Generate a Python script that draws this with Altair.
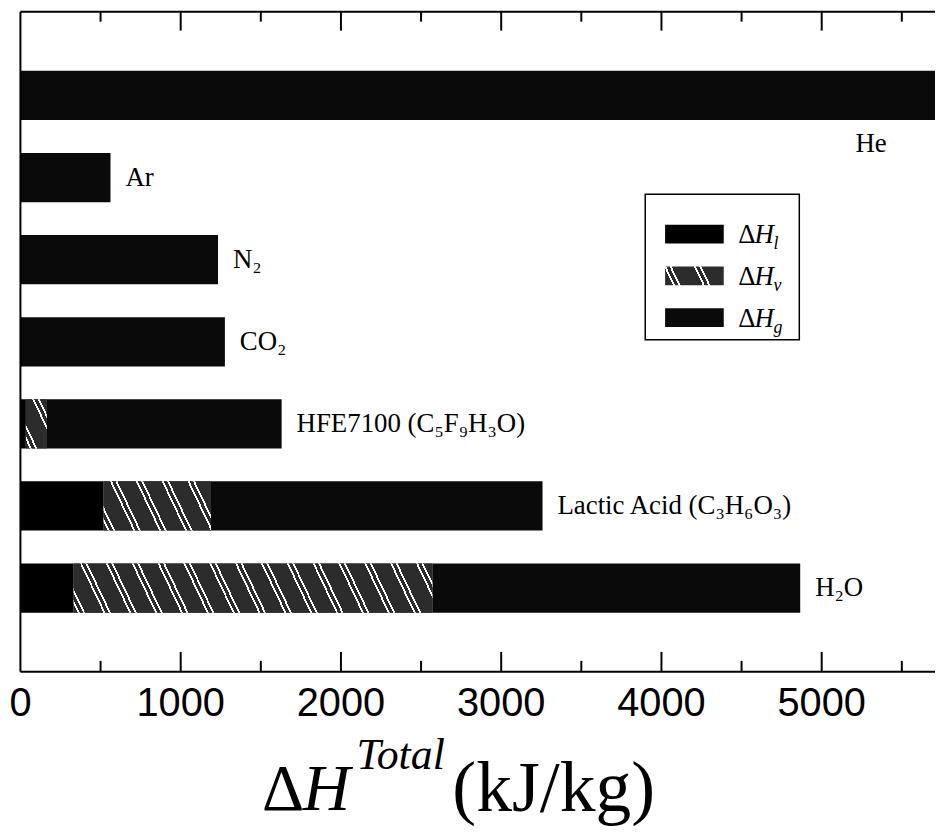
import altair as alt
import pandas as pd

# ---------------- data ----------------
gases = ["He", "Ar", "N2", "CO2", "HFE7100", "Lactic", "H2O"]
gas_labels = ["He", "Ar", "N₂", "CO₂", "HFE7100 (C₅F₉H₃O)", "Lactic Acid (C₃H₆O₃)", "H₂O"]
dH_l = [0, 0, 0, 0, 34, 519, 332]          # kJ/kg
dH_v = [0, 0, 0, 0, 131, 670, 2239]
dH_g = [5900, 562, 1233, 1276, 1465, 2069, 2295]
components = ["l", "v", "g"]
major_ticks = [0, 1000, 2000, 3000, 4000, 5000]
minor_ticks = [500, 1500, 2500, 3500, 4500, 5500]
x_max = 5707

# ---------------- layout ----------------
W, H = 920, 664
PX = W / x_max
P_IN, P_OUT = 0.4, 0.72
step = H / (len(gases) - P_IN + 2 * P_OUT)
bandwidth = step * (1 - P_IN)

rows = []
for g, lab, l, v, gg in zip(gases, gas_labels, dH_l, dH_v, dH_g):
    s = 0
    for comp, val in zip(components, [l, v, gg]):
        rows.append({"gas": g, "label": lab, "comp": comp, "start": s, "end": s + val, "val": val})
        s += val
seg = pd.DataFrame(rows)
tot = pd.DataFrame({"gas": gases, "label": gas_labels,
                    "total": [a + b + c for a, b, c in zip(dH_l, dH_v, dH_g)]})

xs = alt.Scale(domain=[0, x_max], nice=False, zero=True)
ys = alt.Scale(domain=gases, paddingInner=P_IN, paddingOuter=P_OUT)

BG_V = "#2c2c2c"


def hatch(wpx, hpx, period=26.0, slope=2.1, bg=BG_V, fg="#ffffff", phase=4.0):
    L = wpx + hpx / slope
    k = L / (wpx ** 2 + (hpx / slope) ** 2)
    x2 = k * wpx
    y2 = 1 - k * hpx / slope
    stops = [{"offset": 0, "color": bg}]
    lines = [(0.0, 2.0), (5.5, 7.5)]
    n = 0
    while True:
        base = phase + n * period
        if base >= L:
            break
        for a, b in lines:
            a1, b1 = base + a, min(base + b, L)
            if a1 >= L:
                break
            o1, o2 = a1 / L, b1 / L
            stops += [{"offset": o1, "color": bg}, {"offset": o1, "color": fg},
                      {"offset": o2, "color": fg}, {"offset": o2, "color": bg}]
        n += 1
    stops.append({"offset": 1, "color": bg})
    return {"gradient": "linear", "x1": 0, "y1": 1, "x2": x2, "y2": y2, "stops": stops}


bars = alt.Chart(seg).mark_bar(clip=True).encode(
    x=alt.X("start:Q", scale=xs, axis=None),
    x2="end:Q",
    y=alt.Y("gas:N", scale=ys, axis=None),
    fill=alt.Fill("comp:N", scale=alt.Scale(domain=components, range=["#000000", BG_V, "#0a0a0a"]),
                  legend=None),
)

layers = [bars]
for g, v in zip(gases, dH_v):
    if v <= 0:
        continue
    layers.append(
        alt.Chart(seg).transform_filter((alt.datum.gas == g) & (alt.datum.comp == "v"))
        .mark_bar(fill=hatch(v * PX, bandwidth), clip=True)
        .encode(x=alt.X("start:Q", scale=xs, axis=None), x2="end:Q",
                y=alt.Y("gas:N", scale=ys, axis=None))
    )

label_font = "Liberation Serif"
labels = alt.Chart(tot).transform_filter(alt.datum.gas != "He").mark_text(
    align="left", baseline="middle", dx=15, font=label_font, fontSize=27, color="black"
).encode(x=alt.X("total:Q", scale=xs, axis=None), y=alt.Y("gas:N", scale=ys, axis=None), text="label:N")
he_label = alt.Chart(tot).transform_filter(alt.datum.gas == "He").mark_text(
    align="left", baseline="middle", dy=49, font=label_font, fontSize=27, color="black"
).encode(x=alt.value(840), y=alt.Y("gas:N", scale=ys, axis=None), text="label:N")
layers += [labels, he_label]

# ticks (inward)
tdf = pd.DataFrame({"v": major_ticks[1:] + minor_ticks,
                    "kind": ["major"] * (len(major_ticks) - 1) + ["minor"] * len(minor_ticks)})
for kind, top_len, bot_len in [("major", 19, 20), ("minor", 10, 11)]:
    base = alt.Chart(tdf).transform_filter(alt.datum.kind == kind)
    layers.append(base.mark_rule(color="black", strokeWidth=2).encode(
        x=alt.X("v:Q", scale=xs, axis=None), y=alt.value(0), y2=alt.value(top_len)))
    layers.append(base.mark_rule(color="black", strokeWidth=2).encode(
        x=alt.X("v:Q", scale=xs, axis=None), y=alt.value(H), y2=alt.value(H - bot_len)))

# tick labels
tl = pd.DataFrame({"v": major_ticks})
layers.append(alt.Chart(tl).mark_text(align="center", baseline="top", font="Liberation Sans",
                                      fontSize=40, color="black").encode(
    x=alt.X("v:Q", scale=xs, axis=None), y=alt.value(H + 12), text=alt.Text("v:Q", format="d")))

one = pd.DataFrame({"a": [0]})
layers.append(alt.Chart(one).mark_rule(color="black", strokeWidth=2).encode(
    x=alt.value(0), x2=alt.value(W), y=alt.value(0)))
layers.append(alt.Chart(one).mark_rule(color="black", strokeWidth=2).encode(
    x=alt.value(0), x2=alt.value(W), y=alt.value(H)))
layers.append(alt.Chart(one).mark_rule(color="black", strokeWidth=2).encode(
    x=alt.value(0), y=alt.value(0), y2=alt.value(H)))

# legend (manual)
LX0, LX1, LY0, LY1 = 628.5, 783.5, 183.7, 330
layers.append(alt.Chart(one).mark_rect(fill="white", stroke="black", strokeWidth=1.5).encode(
    x=alt.value(LX0), x2=alt.value(LX1), y=alt.value(LY0), y2=alt.value(LY1)))
sw_x0, sw_x1, sw_h = 648.5, 707.5, 19
leg_fills = {"l": "#000000", "v": hatch(sw_x1 - sw_x0, sw_h, period=30, phase=8), "g": "#0a0a0a"}
for i, comp in enumerate(components):
    cy = 223.7 + 42 * i
    layers.append(alt.Chart(one).mark_rect(fill=leg_fills[comp]).encode(
        x=alt.value(sw_x0), x2=alt.value(sw_x1), y=alt.value(cy - sw_h / 2), y2=alt.value(cy + sw_h / 2)))
    layers.append(alt.Chart(one).mark_text(text="Δ", align="left", baseline="alphabetic",
                                           font=label_font, fontSize=27, color="black").encode(
        x=alt.value(722), y=alt.value(cy + 9)))
    layers.append(alt.Chart(one).mark_text(text="H", align="left", baseline="alphabetic",
                                           font=label_font, fontStyle="italic", fontSize=27,
                                           color="black").encode(
        x=alt.value(738.5), y=alt.value(cy + 9)))
    layers.append(alt.Chart(one).mark_text(text=comp, align="left", baseline="alphabetic",
                                           font=label_font, fontStyle="italic", fontSize=18,
                                           color="black").encode(
        x=alt.value(757.5), y=alt.value(cy + 15)))

# axis title
layers.append(alt.Chart(one).mark_text(text="Δ", align="left", baseline="alphabetic",
                                       font=label_font, fontSize=66, color="black").encode(
    x=alt.value(243), y=alt.value(802.7)))
layers.append(alt.Chart(one).mark_text(text="H", align="left", baseline="alphabetic",
                                       font=label_font, fontStyle="italic", fontSize=66,
                                       color="black").encode(
    x=alt.value(284), y=alt.value(802.7)))
layers.append(alt.Chart(one).mark_text(text="Total", align="left", baseline="alphabetic",
                                       font=label_font, fontStyle="italic", fontSize=44,
                                       color="black").encode(
    x=alt.value(338), y=alt.value(762)))
layers.append(alt.Chart(one).mark_text(text="(kJ/kg)", align="left", baseline="alphabetic",
                                       font=label_font, fontSize=72, color="black").encode(
    x=alt.value(434.5), y=alt.value(804)))

chart = alt.layer(*layers).properties(
    width=W, height=H,
    autosize=alt.AutoSizeParams(type="none"),
    padding={"left": 12.5, "top": 1.3, "right": 0, "bottom": 157},
    background="white",
).configure_view(stroke=None)

chart.save("out.html", embed_options={"renderer": "svg", "actions": False})
